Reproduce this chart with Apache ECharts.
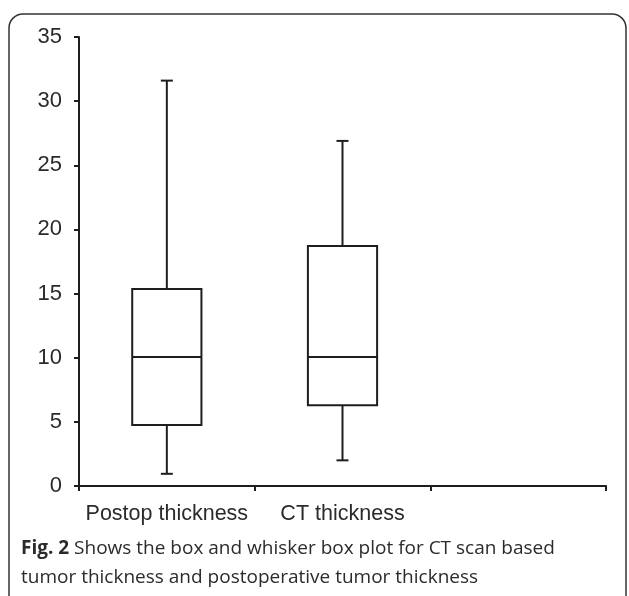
<!DOCTYPE html>
<html>
<head>
<meta charset="utf-8">
<script src="https://cdn.jsdelivr.net/npm/echarts@6/dist/echarts.min.js"></script>
<style>
  html, body { margin: 0; padding: 0; background: #fff; }
  #chart { width: 629px; height: 596px; }
</style>
</head>
<body>
<div id="chart"></div>
<script>
// 分类（第三个位置是空的）
const categories = ['Postop thickness', 'CT thickness', '']
// 箱线图数据: [min, Q1, median, Q3, max]
const postopBox = [0.95, 4.75, 10.05, 15.35, 31.6]
const ctBox = [2.0, 6.3, 10.05, 18.7, 26.9]
const yTicks = [0, 35, 5] // min, max, interval

const captionBold = 'Fig. 2'
const captionLine1 = ' Shows the box and whisker box plot for CT scan based'
const captionLine2 = 'tumor thickness and postoperative tumor thickness'

const boxes = [postopBox, ctBox]
const INK = '#1e1e1e'

const chart = echarts.init(document.getElementById('chart'), null, { renderer: 'canvas' })

/**
 * 画一个箱线图（短须帽）
 */
function renderBox(params, api) {
  const idx = api.value(0)
  const min = api.coord([idx, api.value(1)])
  const q1 = api.coord([idx, api.value(2)])
  const med = api.coord([idx, api.value(3)])
  const q3 = api.coord([idx, api.value(4)])
  const max = api.coord([idx, api.value(5)])
  const band = api.size([1, 0])[0]
  const half = band * 0.197
  const cap = 6
  const x = min[0]
  const line = (x1, y1, x2, y2) => ({
    type: 'line',
    shape: { x1, y1, x2, y2 },
    style: { stroke: INK, lineWidth: 2 }
  })
  return {
    type: 'group',
    children: [
      { type: 'rect', shape: { x: x - half, y: q3[1], width: half * 2, height: q1[1] - q3[1] },
        style: { fill: 'none', stroke: INK, lineWidth: 2 } },
      line(x - half, med[1], x + half, med[1]),
      line(x, q3[1], x, max[1]),
      line(x - cap, max[1], x + cap, max[1]),
      line(x, q1[1], x, min[1]),
      line(x - cap, min[1], x + cap, min[1])
    ]
  }
}

const option = {
  backgroundColor: '#fff',
  animation: false,
  title: {
    text: '{b|' + captionBold + '}' + captionLine1 + '\n' + captionLine2,
    left: 21,
    top: 534,
    padding: 0,
    textStyle: {
      fontFamily: 'Open Sans',
      fontSize: 19,
      fontWeight: 'normal',
      color: '#2b2b2b',
      lineHeight: 29,
      rich: {
        b: { fontFamily: 'Open Sans', fontSize: 19, fontWeight: 'bold', color: '#2b2b2b', lineHeight: 29 }
      }
    }
  },
  graphic: [
    {
      type: 'rect',
      shape: { x: 9, y: 14, width: 617, height: 610, r: 14 },
      style: { fill: 'none', stroke: '#333', lineWidth: 1.5 },
      silent: true
    }
  ],
  grid: { left: 79, right: 23, top: 37, bottom: 110 },
  xAxis: {
    type: 'category',
    data: categories,
    boundaryGap: true,
    axisLine: { show: true, lineStyle: { color: INK, width: 2 } },
    axisTick: { show: true, inside: false, length: 5, lineStyle: { color: INK, width: 2 } },
    axisLabel: {
      color: '#2b2b2b',
      fontFamily: 'Liberation Sans',
      fontSize: 21.5,
      margin: 17,
      interval: 0
    },
    splitLine: { show: false }
  },
  yAxis: {
    type: 'value',
    min: yTicks[0],
    max: yTicks[1],
    interval: yTicks[2],
    axisLine: { show: true, lineStyle: { color: INK, width: 2 } },
    axisTick: { show: true, inside: false, length: 5, lineStyle: { color: INK, width: 2 } },
    axisLabel: {
      color: '#2b2b2b',
      fontFamily: 'Liberation Sans',
      fontSize: 22,
      margin: 17
    },
    splitLine: { show: false }
  },
  series: [
    {
      type: 'custom',
      renderItem: renderBox,
      encode: { x: 0, y: [1, 2, 3, 4, 5] },
      data: boxes.map((b, i) => [i].concat(b))
    }
  ]
}

chart.setOption(option)
</script>
</body>
</html>
